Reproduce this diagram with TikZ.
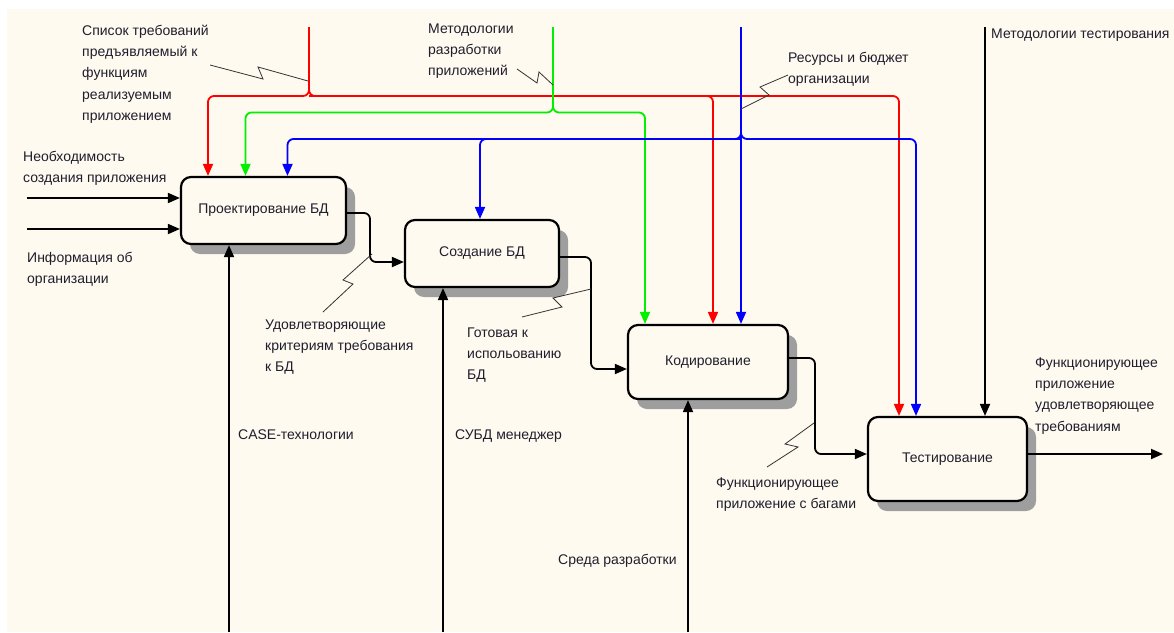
\documentclass[tikz,border=0pt]{standalone}
\usepackage{fontspec}
\setmainfont{Liberation Sans}
\usetikzlibrary{arrows.meta,shadows}
\definecolor{paper}{RGB}{255,250,240}
\definecolor{ink}{RGB}{30,30,45}
\definecolor{ctlred}{RGB}{255,0,0}
\definecolor{ctlgreen}{RGB}{0,240,0}
\definecolor{ctlblue}{RGB}{0,0,255}

\begin{document}
\begin{tikzpicture}[x=1pt,y=-1pt,
  font=\fontsize{14}{21.3}\selectfont, text=ink,
  func/.style={draw=black, line width=2.2pt, rounded corners=10pt, fill=paper,
    inner sep=0pt,
    general shadow={fill=black!38, shadow xshift=9pt, shadow yshift=-10pt}},
  flow/.style={line width=1.8pt, rounded corners=6pt,
    -{Triangle[length=12pt,width=10pt]}},
  squig/.style={line width=0.8pt, draw=black!80},
  % the box of a multi-line label sits on its last line, so labels are
  % placed by the top of that last line
  lbl/.style={anchor=north west, inner sep=0pt, align=left, text height=11pt},
]
% sheet
\useasboundingbox (0,0) rectangle (1174,632);
\fill[white] (0,0) rectangle (1174,632);
\fill[paper] (7,9) rectangle (1174,632);

% activity boxes
\node[func, minimum width=165pt, minimum height=67pt] (b1) at (263.5,210.5) {Проектирование БД};
\node[func, minimum width=154pt, minimum height=67pt] (b2) at (482,253.5) {Создание БД};
\node[func, minimum width=160pt, minimum height=74pt] (b3) at (708,362) {Кодирование};
\node[func, minimum width=159pt, minimum height=84pt] (b4) at (947.5,459) {Тестирование};

% inputs
\coordinate (in1) at (27,198);
\coordinate (in2) at (27,229);
\draw[flow] (in1) -- (in1 -| b1.west);
\draw[flow] (in2) -- (in2 -| b1.west);

% red control: requirements list
\coordinate (redtop) at (309,27);
\coordinate (redfork) at (309,96);
\coordinate (r1) at (208,96);
\coordinate (r2) at (713,96);
\coordinate (r3) at (899,96);
\draw[flow, ctlred] (redtop) -- (redfork) -- (r1) -- (r1 |- b1.north);
\draw[flow, ctlred] (redtop) -- (redfork) -- (r3) -- (r3 |- b4.north);
\draw[flow, ctlred] (redfork) -- (r2) -- (r2 |- b3.north);

% green control: development methodologies
\coordinate (gtop) at (553,27);
\coordinate (gfork) at (553,112.5);
\coordinate (g1) at (245.5,112.5);
\coordinate (g2) at (645,112.5);
\draw[flow, ctlgreen] (gtop) -- (gfork) -- (g1) -- (g1 |- b1.north);
\draw[flow, ctlgreen] (gtop) -- (gfork) -- (g2) -- (g2 |- b3.north);

% blue control: resources and budget
\coordinate (btop) at (741,27);
\coordinate (bfork) at (741,139);
\coordinate (bl1) at (287.5,139);
\coordinate (bl2) at (480,139);
\coordinate (bl3) at (916,139);
\draw[flow, ctlblue] (btop) -- (bfork) -- (bl1) -- (bl1 |- b1.north);
\draw[flow, ctlblue] (bfork) -- (bl2) -- (bl2 |- b2.north);
\draw[flow, ctlblue] (btop) -- (bfork) -- (bl3) -- (bl3 |- b4.north);
\draw[flow, ctlblue] (btop) -- (btop |- b3.north);

% black control: testing methodologies
\coordinate (ktop) at (985,27);
\draw[flow] (ktop) -- (ktop |- b4.north);

% mechanisms
\coordinate (m1) at (229,632);
\coordinate (m2) at (443,632);
\coordinate (m3) at (688,632);
\draw[flow] (m1) -- (m1 |- b1.south);
\draw[flow] (m2) -- (m2 |- b2.south);
\draw[flow] (m3) -- (m3 |- b3.south);

% outputs between activities
\coordinate (o1a) at (370,213);
\coordinate (o1b) at (370,262);
\draw[flow] (o1a -| b1.east) -- (o1a) -- (o1b) -- (o1b -| b2.west);
\coordinate (o2a) at (591,257);
\coordinate (o2b) at (591,369);
\draw[flow] (o2a -| b2.east) -- (o2a) -- (o2b) -- (o2b -| b3.west);
\coordinate (o3a) at (815,358);
\coordinate (o3b) at (815,454);
\draw[flow] (o3a -| b3.east) -- (o3a) -- (o3b) -- (o3b -| b4.west);
\coordinate (out) at (1163,454);
\draw[flow] (out -| b4.east) -- (out);

% label leaders
\draw[squig] (210,65) -- (263,79) -- (258,67) -- (308,81);
\draw[squig] (517,69) -- (537,83) -- (539,72) -- (553,85);
\draw[squig] (788,75) -- (760,87) -- (769,95) -- (741,109);
\draw[squig] (323,312) -- (353,284) -- (343,280) -- (372,254);
\draw[squig] (522,317) -- (562,307) -- (553,298) -- (591,289);
\draw[squig] (767,467) -- (798,447) -- (785,444) -- (814,423);

% labels
\node[lbl] (lreq) at (82,109.2) {Список требований\\предъявляемый к\\функциям\\реализуемым\\приложением};
\node[lbl] (lmeth) at (428,64.6) {Методологии\\разработки\\приложений};
\node[lbl] (lres) at (788,72.3) {Ресурсы и бюджет\\организации};
\node[lbl] (ltest) at (991,27) {Методологии тестирования};
\node[lbl] (lneed) at (23,171.3) {Необходимость\\создания приложения};
\node[lbl] (linfo) at (27,272.3) {Информация об\\организации};
\node[lbl] (lsat) at (265,360.6) {Удовлетворяющие\\критериям требования\\к БД};
\node[lbl] (lready) at (467,368.6) {Готовая к\\испольованию\\БД};
\node[lbl] (lbugs) at (716,497.3) {Функционирующее\\приложение с багами};
\node[lbl] (lfinal) at (1035,419.9) {Функционирующее\\приложение\\удовлетворяющее\\требованиям};
\node[lbl] (lcase) at (238,428) {CASE-технологии};
\node[lbl] (ldbms) at (455,428) {СУБД менеджер};
\node[lbl] (lenv) at (558,553) {Среда разработки};
\end{tikzpicture}
\end{document}
